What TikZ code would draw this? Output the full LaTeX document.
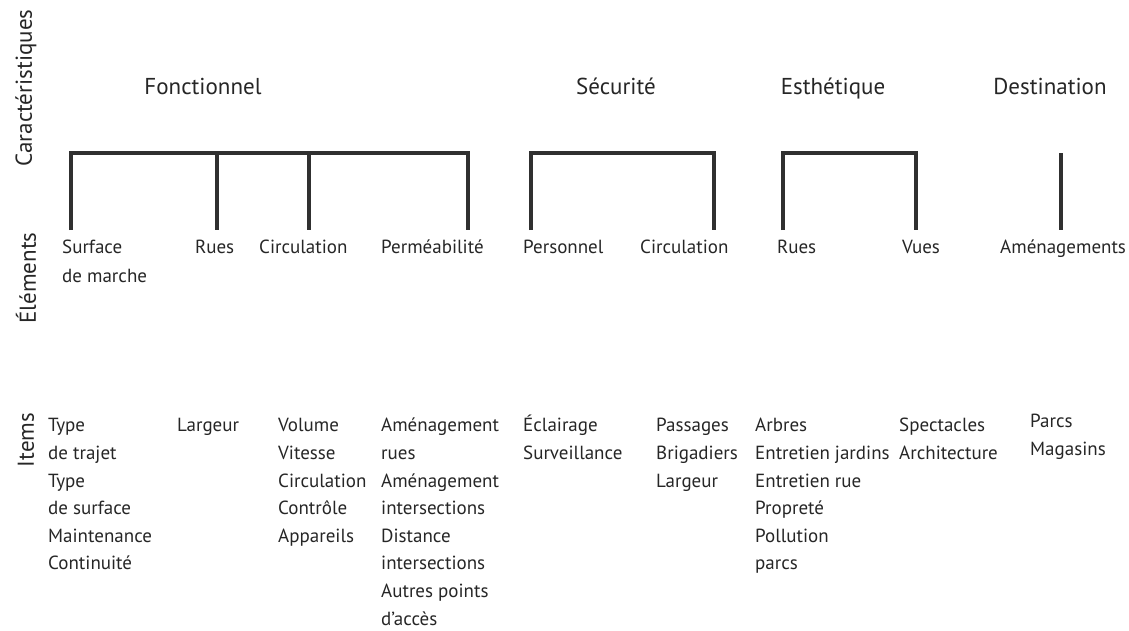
\documentclass[tikz,border=0pt]{standalone}
\usepackage{fontspec}
\setmainfont{PT Sans}
\definecolor{barc}{HTML}{303030}
\definecolor{txt}{HTML}{262626}
\begin{document}
\begin{tikzpicture}[x=1pt,y=-1pt,
  bar/.style={line width=4.5pt, draw=barc, line join=miter},
  head/.style={font=\fontsize{23}{27}\selectfont, text=txt, inner sep=0pt, anchor=base},
  side/.style={font=\fontsize{23}{27}\selectfont, text=txt, inner sep=0pt, rotate=90},
  elem/.style={font=\fontsize{19}{29}\selectfont, text=txt, inner sep=0pt, anchor=north west, align=left},
  itm/.style={font=\fontsize{19}{27.6}\selectfont, text=txt, inner sep=0pt, anchor=north west, align=left}]
\useasboundingbox (0,0) rectangle (1129,630);

% side labels
\node[side] (lc) at (26,88) {Caractéristiques};
\node[side] (le) at (26,278) {Éléments};
\node[side] (li) at (26,440) {Items};

% headings
\node[head] (hF) at (203,94) {Fonctionnel};
\node[head] (hS) at (616,94) {Sécurité};
\node[head] (hE) at (833,94) {Esthétique};
\node[head] (hD) at (1050,94) {Destination};

% bracket coordinates
\coordinate (fAt) at (71,153);  \coordinate (fA) at (71,230);
\coordinate (fBt) at (217,153); \coordinate (fB) at (217,230);
\coordinate (fCt) at (309,153); \coordinate (fC) at (309,230);
\coordinate (fDt) at (468,153); \coordinate (fD) at (468,230);
\coordinate (sAt) at (531,153); \coordinate (sA) at (531,230);
\coordinate (sBt) at (714,153); \coordinate (sB) at (714,230);
\coordinate (eAt) at (783,153); \coordinate (eA) at (783,230);
\coordinate (eBt) at (916,153); \coordinate (eB) at (916,230);
\coordinate (dAt) at (1061,153); \coordinate (dA) at (1061,230);

\draw[bar] (fA) -- (fAt) -- (fDt) -- (fD);
\draw[bar] (fBt) -- (fB);
\draw[bar] (fCt) -- (fC);
\draw[bar] (sA) -- (sAt) -- (sBt) -- (sB);
\draw[bar] (eA) -- (eAt) -- (eBt) -- (eB);
\draw[bar] (dAt) -- (dA);

% elements
\node[elem] (e1) at (62,232.5) {\strut Surface\\de marche};
\node[elem] (e2) at (195,232.5) {\strut Rues};
\node[elem] (e3) at (259,232.5) {\strut Circulation};
\node[elem] (e4) at (381,232.5) {\strut Perméabilité};
\node[elem] (e5) at (523,232.5) {\strut Personnel};
\node[elem] (e6) at (640,232.5) {\strut Circulation};
\node[elem] (e7) at (777,232.5) {\strut Rues};
\node[elem] (e8) at (902,232.5) {\strut Vues};
\node[elem] (e9) at (1000,232.5) {\strut Aménagements};

% items
\node[itm] (i1) at (48,412.4) {\strut Type\\de trajet\\Type\\de surface\\Maintenance\\Continuité};
\node[itm] (i2) at (177,412.4) {\strut Largeur};
\node[itm] (i3) at (278,412.4) {\strut Volume\\Vitesse\\Circulation\\Contrôle\\Appareils};
\node[itm] (i4) at (381,412.4) {\strut Aménagement\\rues\\Aménagement\\intersections\\Distance\\intersections\\Autres points\\d’accès};
\node[itm] (i5) at (523,412.4) {\strut Éclairage\\Surveillance};
\node[itm] (i6) at (656,412.4) {\strut Passages\\Brigadiers\\Largeur};
\node[itm] (i7) at (755,412.4) {\strut Arbres\\Entretien jardins\\Entretien rue\\Propreté\\Pollution\\parcs};
\node[itm] (i8) at (899,412.4) {\strut Spectacles\\Architecture};
\node[itm] (i9) at (1030,408) {\strut Parcs\\Magasins};
\end{tikzpicture}
\end{document}
